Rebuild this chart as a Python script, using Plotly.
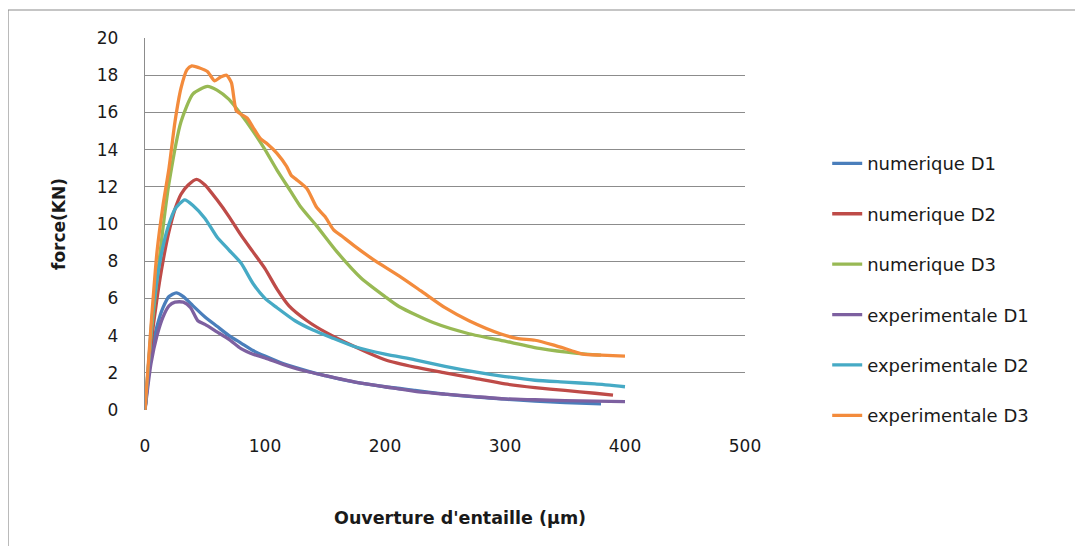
import plotly.graph_objects as go

# ---- data ----
num_d1_x = [0, 5, 10, 15, 20, 26, 32, 40, 50, 60, 70, 80, 90, 100, 115, 130, 150, 175, 200, 225, 250, 275, 300, 325, 350, 380]
num_d1_y = [0, 3.0, 4.5, 5.5, 6.1, 6.3, 6.1, 5.6, 5.0, 4.5, 4.0, 3.6, 3.2, 2.9, 2.5, 2.2, 1.85, 1.5, 1.25, 1.05, 0.85, 0.7, 0.58, 0.48, 0.4, 0.33]

num_d2_x = [0, 5, 10, 15, 20, 25, 30, 36, 43, 50, 60, 70, 80, 90, 100, 110, 120, 135, 150, 175, 200, 225, 250, 275, 300, 325, 350, 375, 390]
num_d2_y = [0, 3.5, 6.0, 8.0, 9.6, 10.8, 11.6, 12.1, 12.4, 12.1, 11.3, 10.4, 9.4, 8.5, 7.6, 6.5, 5.6, 4.8, 4.2, 3.4, 2.7, 2.3, 2.0, 1.7, 1.4, 1.2, 1.05, 0.9, 0.8]

num_d3_x = [0, 5, 10, 15, 20, 30, 40, 52, 60, 70, 80, 90, 100, 110, 121, 130, 143, 160, 180, 200, 212, 240, 270, 300, 330, 360, 380]
num_d3_y = [0, 4.0, 7.0, 9.8, 12.2, 15.5, 17.0, 17.4, 17.2, 16.7, 15.9, 15.0, 14.0, 12.9, 11.8, 10.9, 9.9, 8.5, 7.1, 6.1, 5.55, 4.7, 4.1, 3.7, 3.3, 3.05, 2.95]

exp_d1_x = [0, 5, 10, 15, 20, 25, 32, 38, 44, 50, 60, 70, 80, 90, 100, 115, 130, 150, 175, 200, 225, 250, 275, 300, 325, 350, 375, 400]
exp_d1_y = [0, 2.5, 4.0, 5.0, 5.6, 5.8, 5.8, 5.5, 4.8, 4.6, 4.2, 3.8, 3.3, 3.0, 2.8, 2.45, 2.15, 1.85, 1.5, 1.25, 1.0, 0.85, 0.72, 0.6, 0.55, 0.5, 0.48, 0.45]

exp_d2_x = [0, 3, 6, 10, 15, 20, 25, 33, 40, 50, 60, 70, 80, 90, 100, 110, 125, 140, 155, 175, 200, 225, 250, 275, 300, 325, 350, 375, 400]
exp_d2_y = [0, 2.5, 5.0, 7.0, 8.8, 10.0, 10.8, 11.3, 11.0, 10.3, 9.3, 8.6, 7.9, 6.8, 6.0, 5.5, 4.8, 4.3, 3.9, 3.4, 3.0, 2.7, 2.35, 2.05, 1.8, 1.6, 1.5, 1.4, 1.25]

exp_d3_x = [0, 5, 10, 15, 20, 25, 30, 35, 39, 45, 52, 58, 63, 68, 72, 76, 80, 85, 90, 96, 102, 110, 118, 122, 126, 135, 143, 150, 157, 165, 175, 190, 212, 230, 250, 270, 296, 310, 325, 340, 355, 365, 380, 400]
exp_d3_y = [0, 4.5, 8.5, 11.0, 13.0, 15.5, 17.3, 18.3, 18.5, 18.4, 18.2, 17.7, 17.9, 18.0, 17.6, 16.1, 15.9, 15.7, 15.2, 14.6, 14.3, 13.8, 13.1, 12.6, 12.4, 11.9, 10.9, 10.4, 9.7, 9.3, 8.8, 8.1, 7.2, 6.4, 5.5, 4.8, 4.1, 3.85, 3.75, 3.5, 3.2, 3.0, 2.95, 2.9]

series_names = ["numerique D1", "numerique D2", "numerique D3",
                "experimentale D1", "experimentale D2", "experimentale D3"]
series_x = [num_d1_x, num_d2_x, num_d3_x, exp_d1_x, exp_d2_x, exp_d3_x]
series_y = [num_d1_y, num_d2_y, num_d3_y, exp_d1_y, exp_d2_y, exp_d3_y]
colors = ["#4A7EBB", "#BE4B48", "#98B954", "#7D60A0", "#46AAC5", "#F38B3C"]

x_ticks = [0, 100, 200, 300, 400, 500]
y_ticks = [0, 2, 4, 6, 8, 10, 12, 14, 16, 18, 20]

x_title = "Ouverture d'entaille (µm)"
y_title = "force(KN)"

FONT = "DejaVu Sans"
TXT = "#1a1a1a"

fig = go.Figure()
for i, (name, xs, ys, c) in enumerate(zip(series_names, series_x, series_y, colors)):
    fig.add_trace(go.Scatter(
        x=xs, y=ys, mode="lines", name=name,
        line=dict(color=c, width=3.3, shape="spline", smoothing=0.6),
        legendgroup=f"g{i}",
    ))

fig.update_layout(
    width=1083, height=546,
    margin=dict(l=137, r=346, t=30, b=144),
    paper_bgcolor="white", plot_bgcolor="white",
    font=dict(family=FONT, size=16, color=TXT),
    showlegend=True,
    legend=dict(
        x=1.137, y=0.712, xanchor="left", yanchor="top",
        font=dict(family=FONT, size=18, color=TXT),
        tracegroupgap=24, bgcolor="rgba(0,0,0,0)",
    ),
    xaxis=dict(
        range=[0, 500], tickvals=x_ticks, ticktext=[str(v) for v in x_ticks],
        showgrid=False, zeroline=False, showline=False,
        ticks="", ticklabelstandoff=24,
        tickfont=dict(family=FONT, size=17, color=TXT),
    ),
    yaxis=dict(
        range=[0, 20], tickvals=y_ticks, ticktext=[str(v) for v in y_ticks],
        showgrid=True, gridcolor="#8c8c8c", gridwidth=1.3,
        zeroline=False, showline=True, linecolor="#8c8c8c", linewidth=1.3,
        ticks="", ticklabelstandoff=22,
        tickfont=dict(family=FONT, size=17, color=TXT),
        title=dict(text=f"<b>{y_title}</b>", standoff=26,
                   font=dict(family=FONT, size=17, color=TXT)),
    ),
)

# x-axis title (Excel centres it slightly right of the plot centre)
fig.add_annotation(text=f"<b>{x_title}</b>", xref="paper", yref="paper",
                   x=0.525, y=-0.29, xanchor="center", yanchor="middle",
                   showarrow=False, font=dict(family=FONT, size=17.5, color=TXT))

# outer chart border (Excel chart area frame)
fig.add_shape(type="rect", xref="paper", yref="paper",
              x0=(0 - 137) / 600, x1=(1073 - 137) / 600,
              y0=(402 - 560) / 372, y1=(402 - 2) / 372,
              line=dict(color="#8c8c8c", width=1.2), layer="below")

fig.write_html("out.html")
